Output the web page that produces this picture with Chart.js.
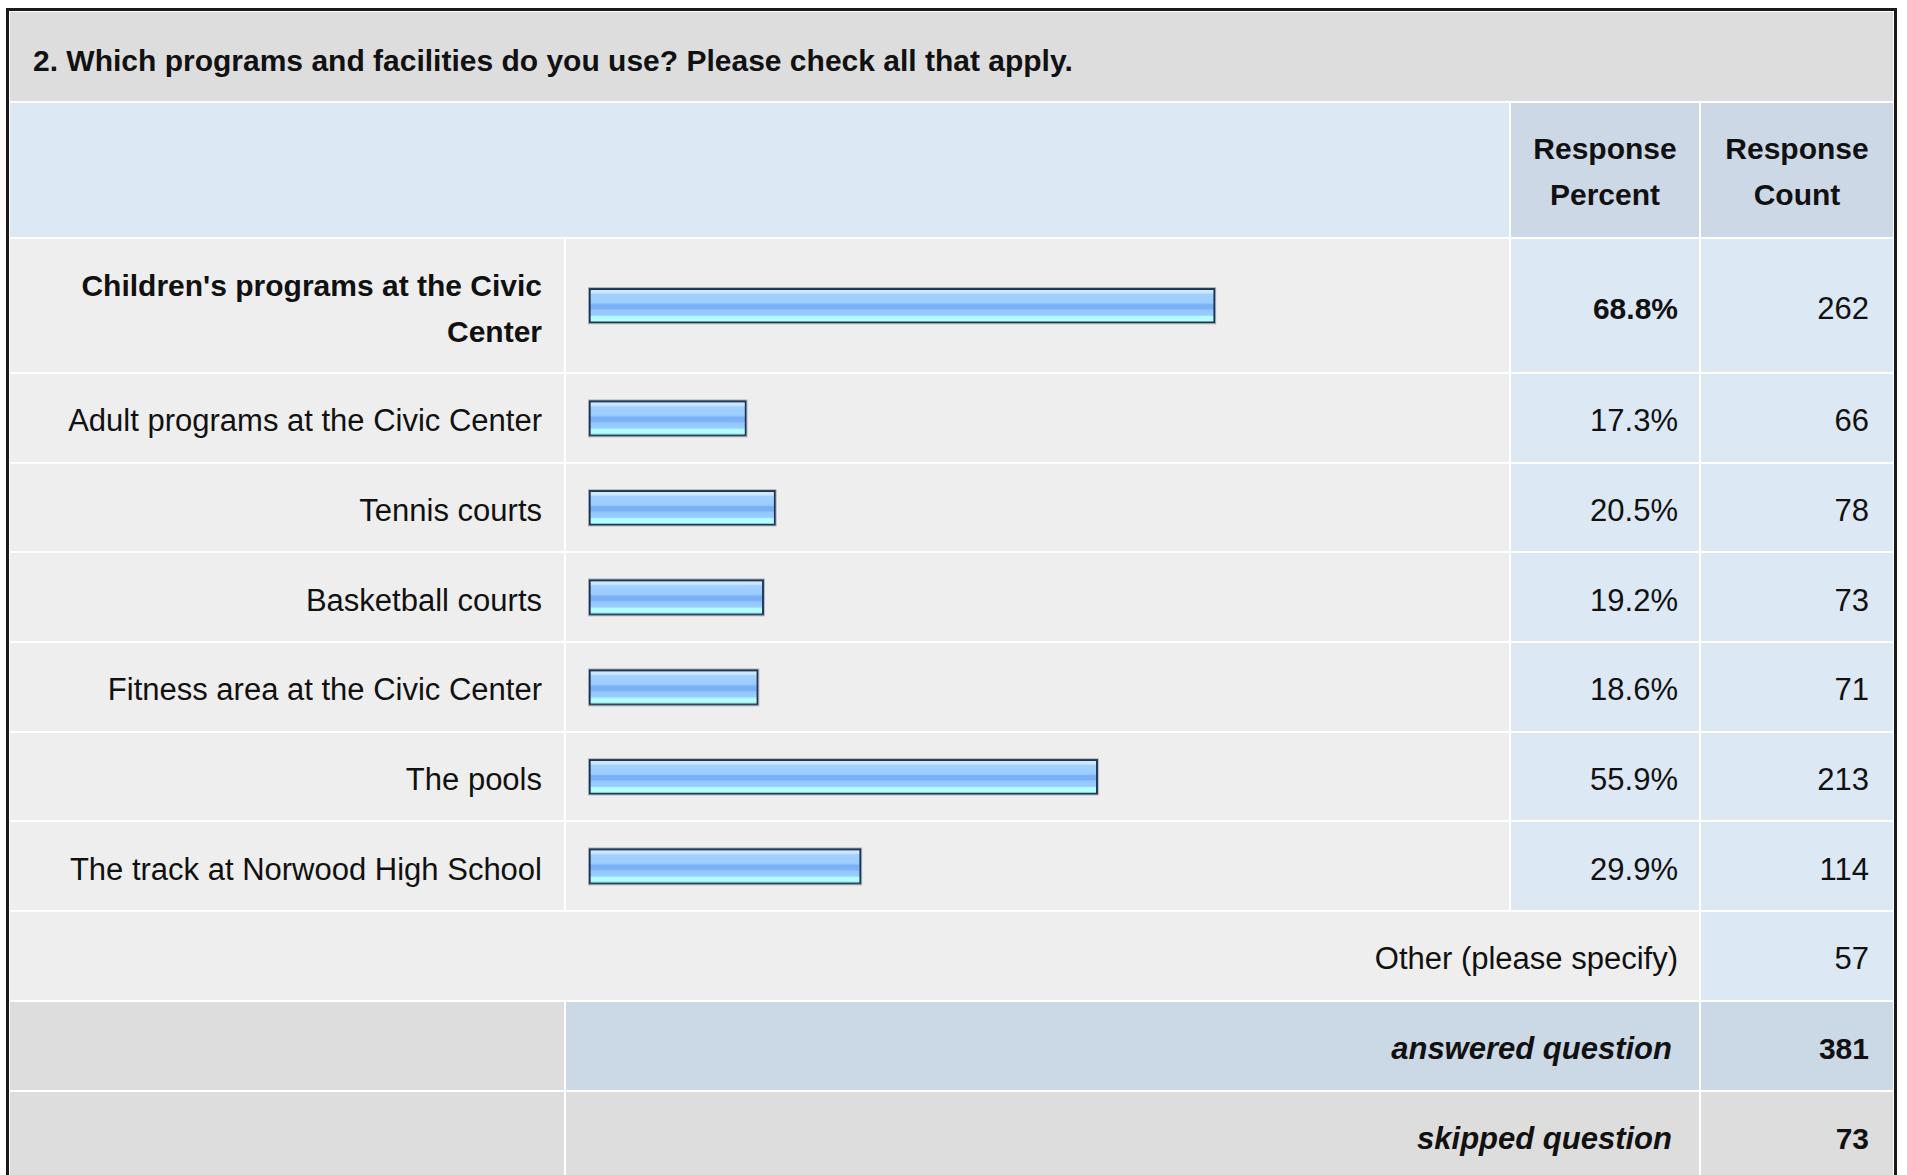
<!DOCTYPE html>
<html>
<head>
<meta charset="utf-8">
<script src="https://cdn.jsdelivr.net/npm/chart.js@4.4.0/dist/chart.umd.min.js"></script>
<style>
  html, body { margin: 0; padding: 0; background: #fff; overflow: hidden; }
  body { font-family: "Liberation Sans", Arial, sans-serif; color: #111; width: 1907px; height: 1175px; }
  #box { position: absolute; left: 6px; top: 8px; border: 3px solid #1a1a1a; border-bottom: none; padding: 1px; background: #fff; }
  .grid {
    display: grid;
    grid-template-columns: 554px 943px 188px 192px;
    grid-template-rows: 89px 133.5px 133.5px repeat(9, 87.7px);
    gap: 2px;
  }
  .cell { display: flex; align-items: center; box-sizing: border-box; font-size: 31px; padding-top: 7px; }
  .title { grid-column: 1 / span 4; background: #dddddd; font-weight: bold; font-size: 30px; padding: 8px 0 0 23px; }
  .head-blank { grid-column: 1 / span 2; background: #dde8f5; }
  .head { background: #ccd8e6; font-weight: bold; font-size: 30px; justify-content: center; text-align: center; line-height: 46px; padding-top: 5px; }
  .label { background: #eeeeee; justify-content: flex-end; text-align: right; padding-right: 22px; line-height: 46px; }
  .bar { background: #eeeeee; position: relative; padding-top: 0; }
  .bar > div { position: absolute; inset: 0; }
  .pct { background: #dde8f5; justify-content: flex-end; padding-right: 21px; }
  .cnt { background: #dde8f5; justify-content: flex-end; padding-right: 24px; }
  .bold { font-weight: bold; font-size: 30px; }
  .other { grid-column: 1 / span 3; background: #eeeeee; justify-content: flex-end; padding-right: 21px; }
  .sum-l { background: #dddddd; }
  .sum { grid-column: 2 / span 2; justify-content: flex-end; padding-right: 27px; font-weight: bold; font-style: italic; }
  .sum-c { justify-content: flex-end; padding-right: 24px; font-weight: bold; font-size: 30px; }
</style>
</head>
<body>
<div id="box"><div class="grid" id="grid"></div></div>
<script>
const title = '2. Which programs and facilities do you use? Please check all that apply.';
const categories = [
  "Children's programs at the Civic Center",
  'Adult programs at the Civic Center',
  'Tennis courts',
  'Basketball courts',
  'Fitness area at the Civic Center',
  'The pools',
  'The track at Norwood High School'
];
const percents = [68.8, 17.3, 20.5, 19.2, 18.6, 55.9, 29.9];
const counts = [262, 66, 78, 73, 71, 213, 114];
const otherLabel = 'Other (please specify)';
const otherCount = 57;
const answered = 381;
const skipped = 73;

const grid = document.getElementById('grid');
const add = (cls, html, style) => {
  const d = document.createElement('div');
  d.className = 'cell ' + cls;
  if (html !== undefined) d.innerHTML = html;
  if (style) d.style.cssText = style;
  grid.appendChild(d);
  return d;
};

add('title', title);
add('head-blank');
add('head', 'Response<br>Percent');
add('head', 'Response<br>Count');

const maxPct = Math.max(...percents);

// stepped blue fill like the old survey bar image
const barFill = (ctx) => {
  const chart = ctx.chart;
  if (!chart.chartArea) return '#9ecfff';
  const mid = chart.scales.y.getPixelForValue(0);
  const h = 35;
  const g = chart.ctx.createLinearGradient(0, mid - h / 2, 0, mid + h / 2);
  const bands = [
    [0.00, '#d2eaff'], [0.13, '#cde7ff'],
    [0.17, '#a2d1ff'], [0.42, '#9ccdff'],
    [0.47, '#7ab0f5'], [0.58, '#7ab0f5'],
    [0.63, '#94c7ff'], [0.77, '#99ccff'],
    [0.81, '#b3ffff'], [1.00, '#b3ffff']
  ];
  bands.forEach(([p, c]) => g.addColorStop(p, c));
  return g;
};

const outline = {
  id: 'outline',
  afterDatasetsDraw(chart) {
    const c = chart.ctx;
    chart.getDatasetMeta(0).data.forEach(bar => {
      const { x, y, base, height } = bar.getProps(['x', 'y', 'base', 'height'], true);
      c.save();
      c.strokeStyle = 'rgba(110,120,135,0.6)';
      c.lineWidth = 1;
      c.strokeRect(base - 0.5, y - height / 2 - 0.5, x - base + 1, height + 1);
      c.restore();
    });
  }
};

categories.forEach((label, i) => {
  const top = percents[i] === maxPct;
  add('label' + (top ? ' bold' : ''), label, top ? 'padding-left:40px' : '');
  const cell = add('bar');
  const wrap = document.createElement('div');
  const canvas = document.createElement('canvas');
  wrap.appendChild(canvas);
  cell.appendChild(wrap);

  new Chart(canvas.getContext('2d'), {
    type: 'bar',
    data: {
      labels: [label],
      datasets: [{
        data: [percents[i]],
        backgroundColor: barFill,
        borderColor: '#1c3556',
        borderWidth: 2,
        borderSkipped: false,
        barThickness: 35
      }]
    },
    options: {
      indexAxis: 'y',
      responsive: true,
      maintainAspectRatio: false,
      animation: false,
      layout: { padding: { left: 23, right: 10, top: 0, bottom: 0 } },
      plugins: { legend: { display: false }, tooltip: { enabled: false } },
      scales: {
        x: { display: false, min: 0, max: 100 },
        y: { display: false }
      }
    },
    plugins: [outline]
  });

  add('pct' + (top ? ' bold' : ''), percents[i].toFixed(1) + '%');
  add('cnt', String(counts[i]));
});

add('other', otherLabel);
add('cnt', String(otherCount));

add('sum-l');
add('sum', 'answered question', 'background:#cbd8e6');
add('sum-c', String(answered), 'background:#cbd8e6');

add('sum-l');
add('sum', 'skipped question', 'background:#dddddd');
add('sum-c', String(skipped), 'background:#dddddd');
</script>
</body>
</html>
